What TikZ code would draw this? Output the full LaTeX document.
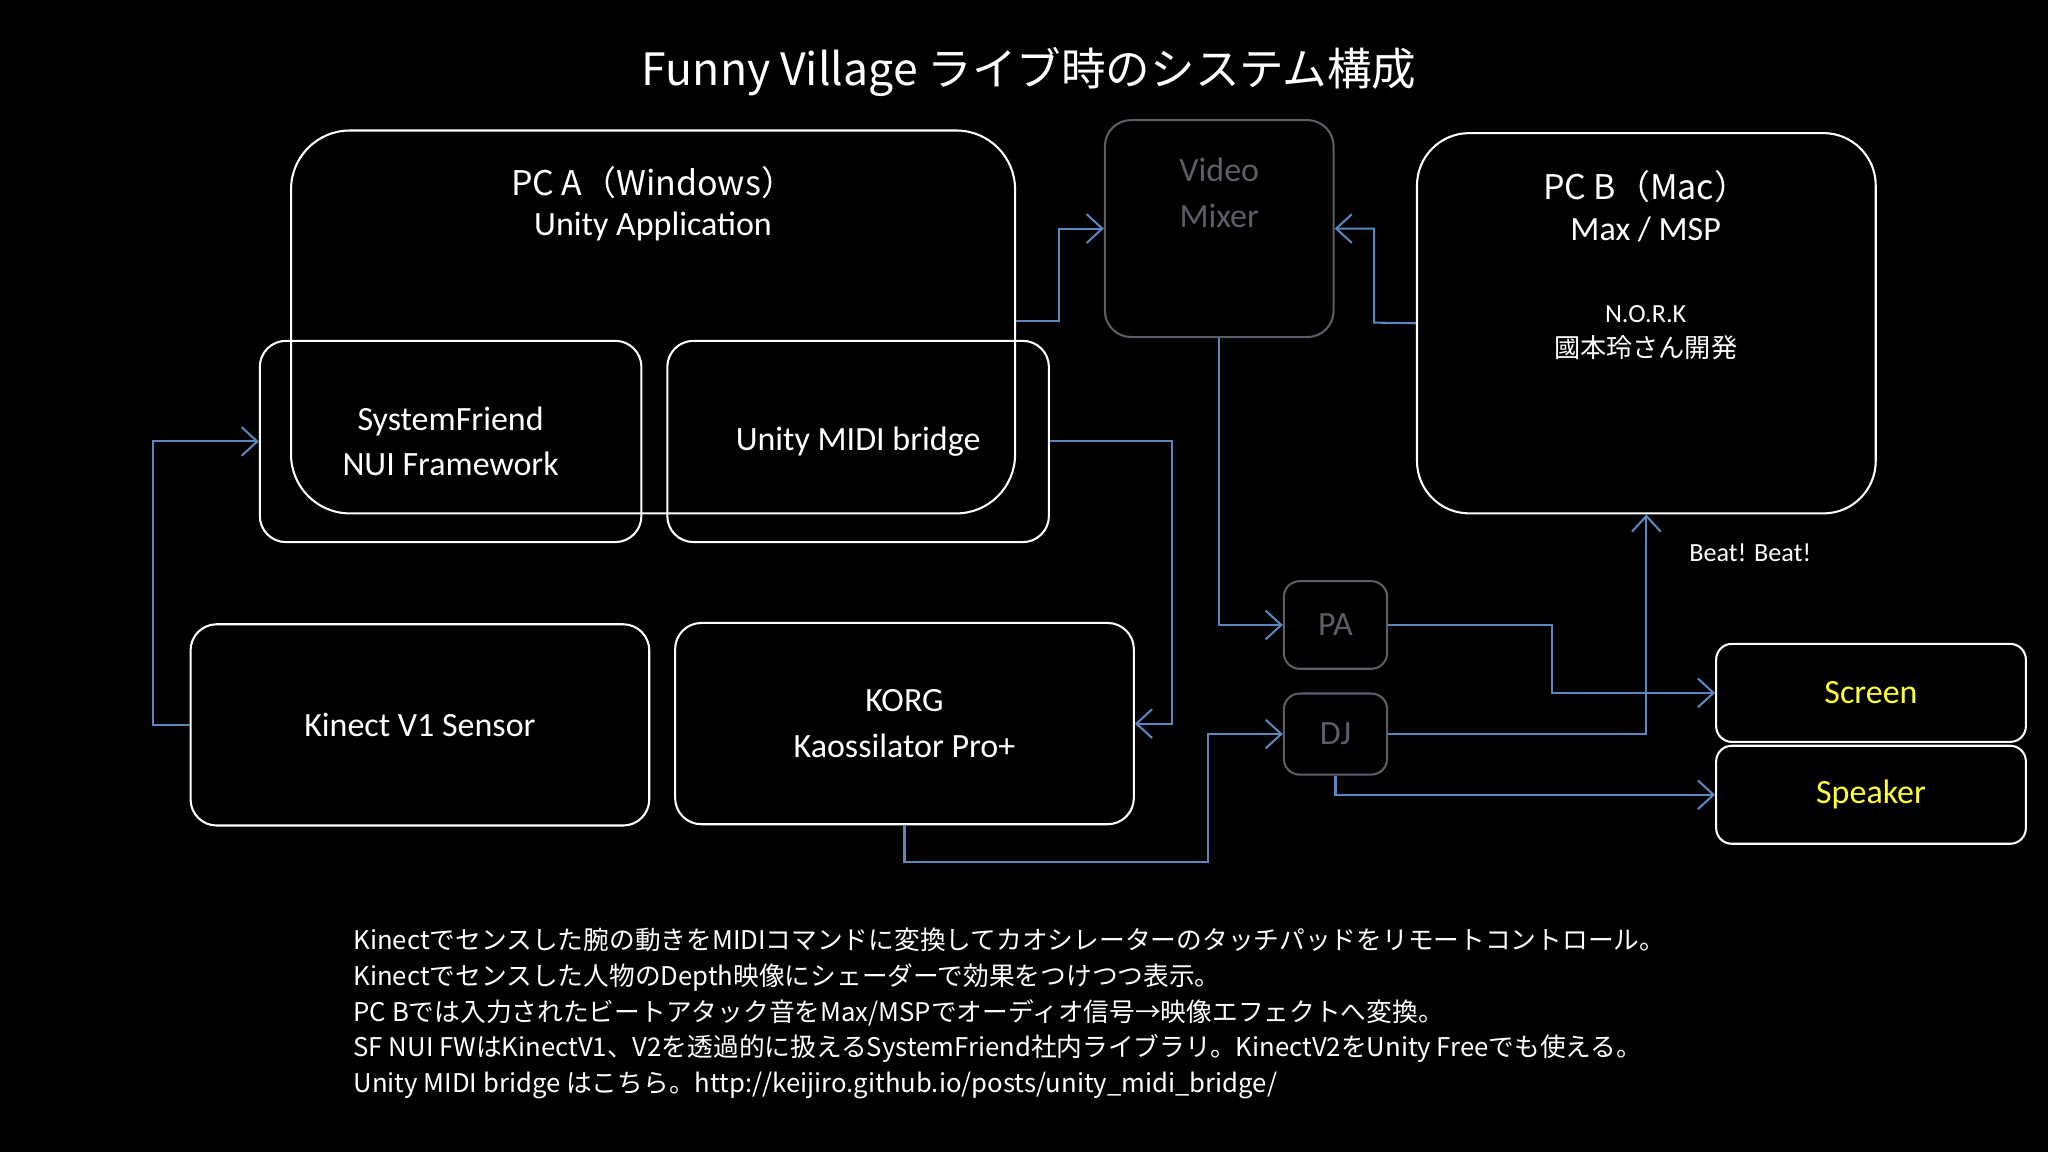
\documentclass[tikz,border=0pt]{standalone}
\usepackage{fontspec}
\setmainfont{Carlito}
\newfontfamily\cjk{Noto Sans CJK JP}
\usetikzlibrary{arrows.meta}
\definecolor{ln}{HTML}{5B86C0}
\definecolor{gr}{HTML}{5A5F68}
\definecolor{yl}{HTML}{FFFF33}
\tikzset{
 box/.style={draw=white,line width=0.45pt,rounded corners=0.2cm,text=white,align=center,font=\fontsize{7.4}{9.9}\selectfont},
 gbox/.style={box,draw=gr,text=gr},
 ybox/.style={box,text=yl},
 con/.style={draw=ln,line width=0.45pt,-{Straight Barb[length=1.2mm,width=2.2mm]}},
}
\begin{document}
\begin{tikzpicture}[x=0.01cm,y=-0.01cm]
\fill[black] (0,0) rectangle (1568,882);
\useasboundingbox (0,0) rectangle (1568,882);
\node[text=white,font=\cjk\fontsize{9.7}{12}\selectfont] (title) at (788,55) {Funny Village ライブ時のシステム構成};
\node[box,rounded corners=0.45cm,minimum width=554\pgflinewidth,minimum width=5.54cm,minimum height=2.93cm] (pca) at (500,246.5) {};
\node[text=white,align=center,font=\cjk\fontsize{7.4}{9.9}\selectfont] (pcat) at (500,156) {PC A（Windows）\\[-1pt]{\fontspec{Carlito}Unity Application}};
\node[box,minimum width=2.92cm,minimum height=1.54cm] (sf) at (345,338) {SystemFriend\\NUI Framework};
\node[box,minimum width=2.92cm,minimum height=1.54cm] (midi) at (657,338) {Unity MIDI bridge};
\node[gbox,minimum width=1.75cm,minimum height=1.66cm,text depth=0.55cm] (mix) at (933.5,175) {Video\\Mixer};
\node[box,rounded corners=0.4cm,minimum width=3.51cm,minimum height=2.91cm] (pcb) at (1260.5,247.5) {};
\node[text=white,align=center,font=\cjk\fontsize{7.4}{9.9}\selectfont] (pcbt) at (1260,158) {PC B（Mac）\\[-1pt]{\fontspec{Carlito}Max / MSP}};
\node[text=white,align=center,font=\cjk\fontsize{5.7}{7.6}\selectfont] (nork) at (1260,255) {{\fontspec{Carlito}N.O.R.K}\\國本玲さん開発};
\node[text=white,font=\fontsize{5.7}{7}\selectfont] (beat) at (1340,423) {Beat! Beat!};
\node[box,minimum width=3.51cm,minimum height=1.54cm] (kin) at (321.5,555) {Kinect V1 Sensor};
\node[box,minimum width=3.51cm,minimum height=1.54cm] (korg) at (692.5,554) {KORG\\Kaossilator Pro+};
\node[gbox,rounded corners=0.12cm,minimum width=0.79cm,minimum height=0.67cm] (pa) at (1022.5,478.5) {PA};
\node[gbox,rounded corners=0.12cm,minimum width=0.79cm,minimum height=0.62cm] (dj) at (1022.5,562) {DJ};
\node[ybox,rounded corners=0.12cm,minimum width=2.37cm,minimum height=0.75cm] (scr) at (1432.5,530.5) {Screen};
\node[ybox,rounded corners=0.12cm,minimum width=2.37cm,minimum height=0.75cm] (spk) at (1432.5,608.5) {Speaker};
\draw[con] (pca.east|-0,246) -- (811,246) -- (811,175) -- (mix.west);
\draw[con] (pcb.west) -- (1052,247) -- (1052,175) -- (mix.east);
\draw[con] (kin.west) -- (117,555) -- (117,338) -- (sf.west);
\draw[con] (midi.east) -- (897,338) -- (897,554) -- (korg.east);
\draw[con] (korg.south) -- (692.5,660) -- (925,660) -- (925,562) -- (dj.west);
\draw[con] (mix.south) -- (933.5,478.5) -- (pa.west);
\draw[con] (pa.east) -- (1188,478.5) -- (1188,530.5) -- (scr.west);
\draw[con] (dj.east) -- (1260.5,562) -- (pcb.south);
\draw[con] (dj.south) -- (1022.5,608.5) -- (spk.west);
\node[anchor=north west,text=white,align=left,font=\cjk\fontsize{5.6}{7.75}\selectfont,inner sep=0] (foot) at (270,710) {Kinectでセンスした腕の動きをMIDIコマンドに変換してカオシレーターのタッチパッドをリモートコントロール。\\Kinectでセンスした人物のDepth映像にシェーダーで効果をつけつつ表示。\\PC Bでは入力されたビートアタック音をMax/MSPでオーディオ信号→映像エフェクトへ変換。\\SF NUI FWはKinectV1、V2を透過的に扱えるSystemFriend社内ライブラリ。KinectV2をUnity Freeでも使える。\\Unity MIDI bridge はこちら。http://keijiro.github.io/posts/unity\_midi\_bridge/};
\end{tikzpicture}
\end{document}
